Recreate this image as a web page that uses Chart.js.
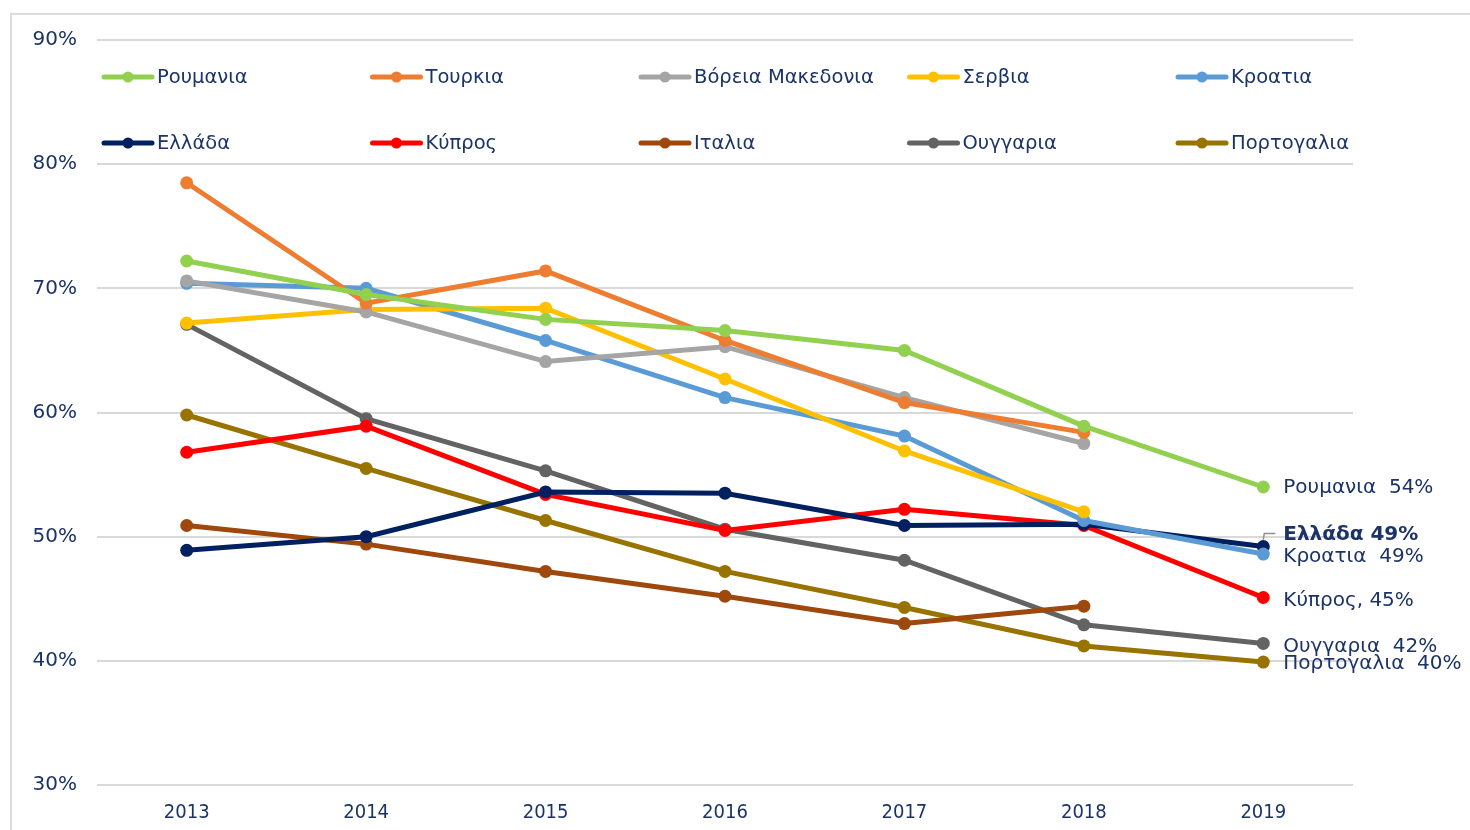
<!DOCTYPE html>
<html>
<head>
<meta charset="utf-8">
<script src="https://cdn.jsdelivr.net/npm/chart.js@4/dist/chart.umd.min.js"></script>
<style>
  body { margin: 0; background: #fff; }
  #wrap { position: relative; width: 1470px; height: 830px; overflow: hidden; }
  #frame { position: absolute; left: 10px; top: 13px; width: 1470px; height: 830px;
           border-left: 2px solid #dcdcdc; border-top: 2px solid #dcdcdc; }
  #chart { position: absolute; left: 0; top: 0; }
</style>
</head>
<body>
<div id="wrap">
  <div id="frame"></div>
  <canvas id="chart" width="1470" height="830"></canvas>
</div>
<script>
// years on the x axis
const years = ["2013", "2014", "2015", "2016", "2017", "2018", "2019"];

// share per country, %
const romania    = [72.2, 69.5, 67.5, 66.6, 65.0, 58.9, 54.0];
const turkey     = [78.5, 68.8, 71.4, 65.8, 60.8, 58.4, null];
const nMacedonia = [70.6, 68.1, 64.1, 65.3, 61.2, 57.5, null];
const serbia     = [67.2, 68.3, 68.4, 62.7, 56.9, 52.0, null];
const croatia    = [70.4, 70.0, 65.8, 61.2, 58.1, 51.3, 48.6];
const greece     = [48.9, 50.0, 53.6, 53.5, 50.9, 51.0, 49.2];
const cyprus     = [56.8, 58.9, 53.4, 50.5, 52.2, 50.9, 45.1];
const italy      = [50.9, 49.4, 47.2, 45.2, 43.0, 44.4, null];
const hungary    = [67.1, 59.5, 55.3, 50.6, 48.1, 42.9, 41.4];
const portugal   = [59.8, 55.5, 51.3, 47.2, 44.3, 41.2, 39.9];

const seriesNames = ["Ρουμανια", "Τουρκια", "Βόρεια Μακεδονια", "Σερβια", "Κροατια",
                     "Ελλάδα", "Κύπρος", "Ιταλια", "Ουγγαρια", "Πορτογαλια"];
const seriesData = [romania, turkey, nMacedonia, serbia, croatia,
                    greece, cyprus, italy, hungary, portugal];
const seriesColors = ["#92D050", "#ED7D31", "#A5A5A5", "#FFC000", "#5B9BD5",
                      "#002060", "#FF0000", "#9E480E", "#636363", "#997300"];

// labels at the end of the 2019 lines
const endLabels = ["Ρουμανια  54%", null, null, null, "Κροατια  49%",
                   "Ελλάδα 49%", "Κύπρος, 45%", null, "Ουγγαρια  42%", "Πορτογαλια  40%"];
const endLabelDy = [0, 0, 0, 0, 2, -13, 2, 0, 2, 1];

const textColor = "#1B3366";
const font = "DejaVu Sans";

const datasets = seriesNames.map((name, i) => ({
  label: name,
  data: seriesData[i],
  borderColor: seriesColors[i],
  backgroundColor: seriesColors[i],
  borderWidth: 5,
  pointRadius: 6.5,
  pointBorderWidth: 0,
  pointHoverRadius: 6.5,
  tension: 0,
  fill: false
}));

// legend drawn inside the plot, 2 rows x 5 columns
const insideLegend = {
  id: "insideLegend",
  afterDraw(chart) {
    const ctx = chart.ctx;
    const area = chart.chartArea;
    ctx.save();
    ctx.font = "19.5px '" + font + "'";
    ctx.textBaseline = "middle";
    ctx.textAlign = "left";
    chart.data.datasets.forEach((ds, i) => {
      const col = i % 5, row = Math.floor(i / 5);
      const x = area.left + 5 + col * 268.5;
      const y = area.top + 37 + row * 66;
      ctx.strokeStyle = ds.borderColor;
      ctx.lineWidth = 5;
      ctx.lineCap = "round";
      ctx.beginPath();
      ctx.moveTo(x + 2, y);
      ctx.lineTo(x + 50, y);
      ctx.stroke();
      ctx.fillStyle = ds.borderColor;
      ctx.beginPath();
      ctx.arc(x + 26, y, 5.5, 0, Math.PI * 2);
      ctx.fill();
      ctx.fillStyle = textColor;
      ctx.fillText(ds.label, x + 55, y + 1);
    });
    ctx.restore();
  }
};

// text at the end of each line
const endText = {
  id: "endText",
  afterDatasetsDraw(chart) {
    const ctx = chart.ctx;
    ctx.save();
    ctx.textBaseline = "middle";
    ctx.textAlign = "left";
    endLabels.forEach((txt, i) => {
      if (!txt) return;
      const meta = chart.getDatasetMeta(i);
      const pt = meta.data[meta.data.length - 1];
      const y = pt.y + endLabelDy[i];
      if (i === 5) {
        // leader line for Ελλάδα
        ctx.strokeStyle = "#909090";
        ctx.lineWidth = 1.5;
        ctx.beginPath();
        ctx.moveTo(pt.x, pt.y - 7);
        ctx.lineTo(pt.x + 1, y);
        ctx.lineTo(pt.x + 12, y);
        ctx.stroke();
        ctx.font = "bold 20px '" + font + "'";
      } else {
        ctx.font = "20px '" + font + "'";
      }
      ctx.fillStyle = textColor;
      ctx.fillText(txt, pt.x + 20, y + 1);
    });
    ctx.restore();
  }
};

new Chart(document.getElementById("chart"), {
  type: "line",
  data: { labels: years, datasets },
  options: {
    responsive: false,
    animation: false,
    layout: { padding: { top: 40, right: 117, left: 0, bottom: 0 } },
    plugins: {
      legend: { display: false },
      tooltip: { enabled: false }
    },
    scales: {
      x: {
        offset: true,
        grid: { display: false, drawTicks: false },
        border: { display: false },
        ticks: {
          color: textColor,
          padding: 16,
          font: { family: "DejaVu Sans Condensed", size: 20 }
        },
        afterFit(scale) { scale.height = 45; }
      },
      y: {
        min: 30,
        max: 90,
        grid: { color: "#d9d9d9", lineWidth: 2, drawTicks: false },
        border: { display: false },
        ticks: {
          stepSize: 10,
          color: textColor,
          padding: 20,
          font: { family: font, size: 20 },
          callback: v => v + "%"
        },
        afterFit(scale) { scale.width = 97; }
      }
    }
  },
  plugins: [insideLegend, endText]
});
</script>
</body>
</html>
